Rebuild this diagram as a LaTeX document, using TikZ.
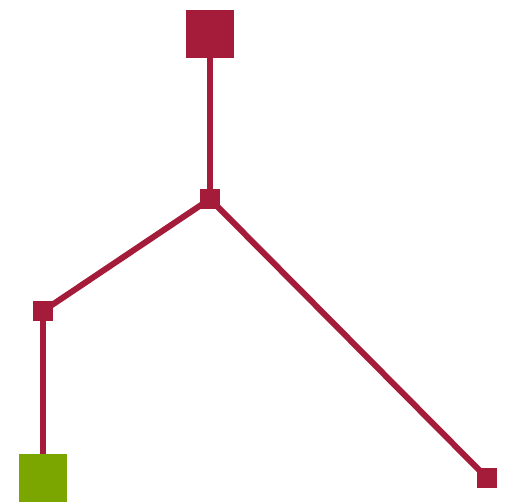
\documentclass[tikz,border=0pt]{standalone}
\usetikzlibrary{backgrounds}
\definecolor{crimson}{RGB}{165,28,58}
\definecolor{leafgreen}{RGB}{123,166,0}
\tikzset{
  bigbox/.style={rectangle, fill=crimson, minimum size=48pt, inner sep=0pt},
  smallbox/.style={rectangle, fill=crimson, minimum size=20pt, inner sep=0pt},
  edge/.style={draw=crimson, line width=6pt}
}
\begin{document}
\begin{tikzpicture}[x=1pt,y=-1pt]
  \useasboundingbox (0,0) rectangle (509,502);

  \node[bigbox] (root) at (210,34) {};
  \node[smallbox] (mid) at (210,199) {};
  \node[smallbox] (left) at (43,311) {};
  \node[bigbox, fill=leafgreen] (leaf) at (43,478) {};
  \node[smallbox] (right) at (487,478) {};

  \begin{scope}[on background layer]
  \draw[edge] (root.center) -- (mid.center);
  \draw[edge] (mid.center) -- (left.center);
  \draw[edge] (mid.center) -- (right.center);
  \draw[edge] (left.center) -- (leaf.center);
  \end{scope}
\end{tikzpicture}
\end{document}
